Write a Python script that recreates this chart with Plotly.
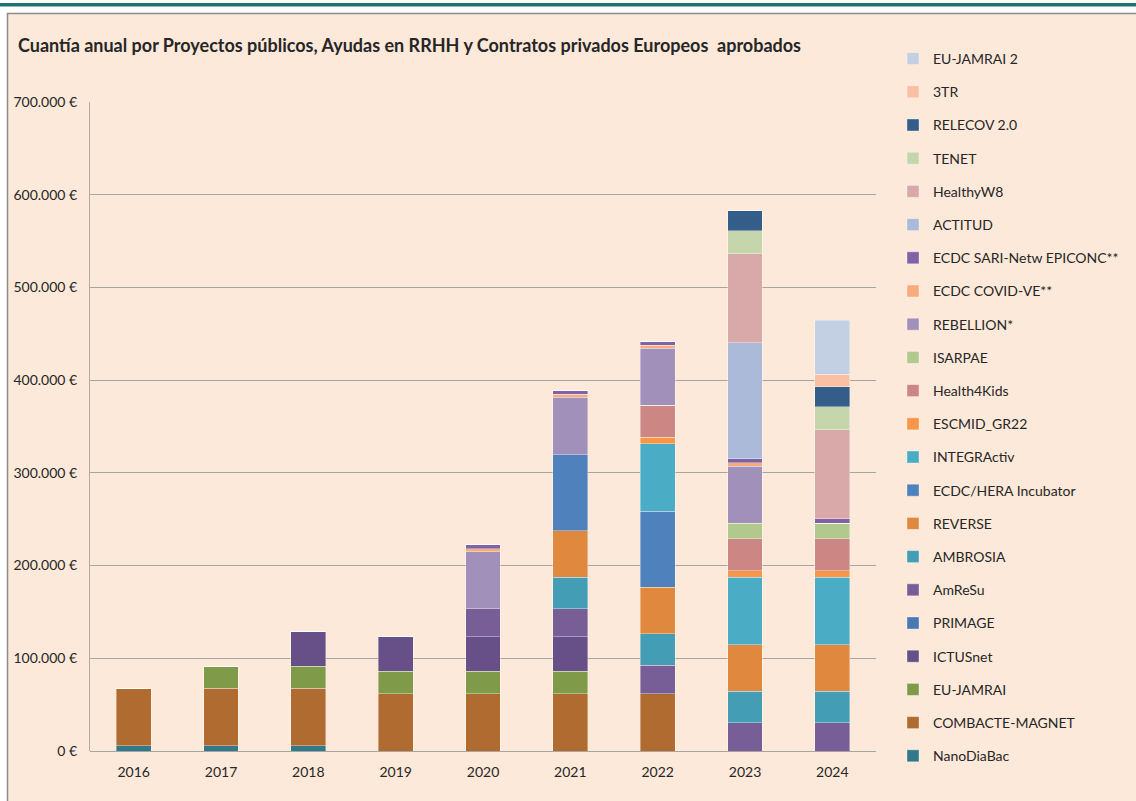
import plotly.graph_objects as go

years = ["2016", "2017", "2018", "2019", "2020", "2021", "2022", "2023", "2024"]

# Series (bottom of stack first)
nanodiabac = [5500, 5500, 5500, 0, 0, 0, 0, 0, 0]
combacte_magnet = [62000, 62000, 62000, 62000, 62000, 62000, 62000, 0, 0]
eu_jamrai = [0, 24000, 24000, 24000, 24000, 24000, 0, 0, 0]
ictusnet = [0, 0, 37000, 37000, 37000, 37000, 0, 0, 0]
primage = [0, 0, 0, 0, 0, 0, 0, 0, 0]
amresu = [0, 0, 0, 0, 30500, 30500, 30500, 30500, 30500]
ambrosia = [0, 0, 0, 0, 0, 34000, 34000, 34000, 34000]
reverse = [0, 0, 0, 0, 0, 50000, 50000, 50000, 50000]
ecdc_hera = [0, 0, 0, 0, 0, 82000, 82000, 0, 0]
integractiv = [0, 0, 0, 0, 0, 0, 73000, 73000, 73000]
escmid_gr22 = [0, 0, 0, 0, 0, 0, 6700, 6700, 6700]
health4kids = [0, 0, 0, 0, 0, 0, 34500, 34500, 34500]
isarpae = [0, 0, 0, 0, 0, 0, 0, 17000, 17000]
rebellion = [0, 0, 0, 0, 61500, 62000, 61500, 61500, 0]
ecdc_covid_ve = [0, 0, 0, 0, 3300, 3200, 3600, 3600, 0]
ecdc_sari = [0, 0, 0, 0, 4600, 4300, 4400, 4300, 4600]
actitud = [0, 0, 0, 0, 0, 0, 0, 125000, 0]
healthyw8 = [0, 0, 0, 0, 0, 0, 0, 96000, 96000]
tenet = [0, 0, 0, 0, 0, 0, 0, 25000, 25000]
relecov = [0, 0, 0, 0, 0, 0, 0, 21600, 21600]
tres_tr = [0, 0, 0, 0, 0, 0, 0, 0, 13600]
eu_jamrai2 = [0, 0, 0, 0, 0, 0, 0, 0, 58000]

series_names = ["NanoDiaBac", "COMBACTE-MAGNET", "EU-JAMRAI", "ICTUSnet", "PRIMAGE", "AmReSu",
                "AMBROSIA", "REVERSE", "ECDC/HERA Incubator", "INTEGRActiv", "ESCMID_GR22",
                "Health4Kids", "ISARPAE", "REBELLION*", "ECDC COVID-VE**",
                "ECDC SARI-Netw EPICONC**", "ACTITUD", "HealthyW8", "TENET", "RELECOV 2.0",
                "3TR", "EU-JAMRAI 2"]
series_values = [nanodiabac, combacte_magnet, eu_jamrai, ictusnet, primage, amresu, ambrosia,
                 reverse, ecdc_hera, integractiv, escmid_gr22, health4kids, isarpae, rebellion,
                 ecdc_covid_ve, ecdc_sari, actitud, healthyw8, tenet, relecov, tres_tr, eu_jamrai2]
series_colors = ["#31788a", "#b06b30", "#7f9a48", "#674f87", "#4a78b0", "#775e96",
                 "#439db5", "#e0893e", "#4f81bd", "#4bacc6", "#f79646",
                 "#cc8683", "#b2c98e", "#a191ba", "#f9ab7c",
                 "#7f63a6", "#abbad8", "#d9a9a9", "#c5d6ad", "#355d8a",
                 "#f9c0a4", "#c3cfe2"]

title_text = "Cuantía anual por Proyectos públicos, Ayudas en RRHH y Contratos privados Europeos  aprobados"

W, H = 1136, 801
L, R, T, B = 90, 876, 102, 751
FONT = "Lato, 'Open Sans', sans-serif"
TXT = "#262626"


def px_x(x):
    return (x - L) / (R - L)


def px_y(y):
    return (B - y) / (B - T)


fig = go.Figure()
n = len(series_names)
for i, (name, vals, col) in enumerate(zip(series_names, series_values, series_colors)):
    fig.add_trace(go.Bar(
        x=years, y=vals, name=name, legendgroup=name, legendrank=1000 - i,
        marker=dict(color=col, line=dict(color="rgba(255,255,255,0.45)", width=0.8)),
    ))

fig.update_layout(
    width=W, height=H,
    barmode="stack", bargap=0.6,
    separators=",.",
    paper_bgcolor="white",
    plot_bgcolor="rgba(0,0,0,0)",
    margin=dict(l=L, r=W - R, t=T, b=H - B, pad=0),
    font=dict(family=FONT, size=14, color=TXT),
    showlegend=True,
    legend=dict(
        traceorder="grouped",
        tracegroupgap=12,
        x=px_x(893), xanchor="left",
        y=px_y(43), yanchor="top",
        bgcolor="rgba(0,0,0,0)",
        font=dict(family=FONT, size=14, color=TXT),
        itemwidth=30,
        maxheight=780,
    ),
    xaxis=dict(
        showgrid=False, showline=False, zeroline=False,
        ticks="", tickfont=dict(size=14, color=TXT),
        ticklabelstandoff=11,
    ),
    yaxis=dict(
        range=[0, 700000], dtick=100000,
        tickformat=",.0f", ticksuffix=" €",
        showgrid=True, gridcolor="#a8a4a0", gridwidth=1,
        zeroline=True, zerolinecolor="#a8a4a0", zerolinewidth=1,
        showline=True, linecolor="#b0aca8", linewidth=1,
        ticks="", tickfont=dict(size=14, color=TXT),
        ticklabelstandoff=9,
    ),
)

shapes = [
    # peach chart area with gray frame
    dict(type="rect", xref="paper", yref="paper",
         x0=px_x(7.5), x1=px_x(1150), y0=px_y(815), y1=px_y(13.5),
         fillcolor="#fde9d9", line=dict(color="#8c8c8c", width=1.5), layer="below"),
    # teal top rule
    dict(type="rect", xref="paper", yref="paper",
         x0=px_x(-5), x1=px_x(1150), y0=px_y(6.5), y1=px_y(3),
         fillcolor="#18766e", line=dict(width=0), layer="below"),
]
fig.update_layout(shapes=shapes)

fig.add_annotation(
    text="<b>" + title_text + "</b>",
    xref="paper", yref="paper", x=px_x(16), y=px_y(45),
    xanchor="left", yanchor="middle", showarrow=False,
    font=dict(family=FONT, size=18, color=TXT),
)

fig.write_html("out.html", config={"displayModeBar": False},
               post_script="document.body.style.margin='0';")
